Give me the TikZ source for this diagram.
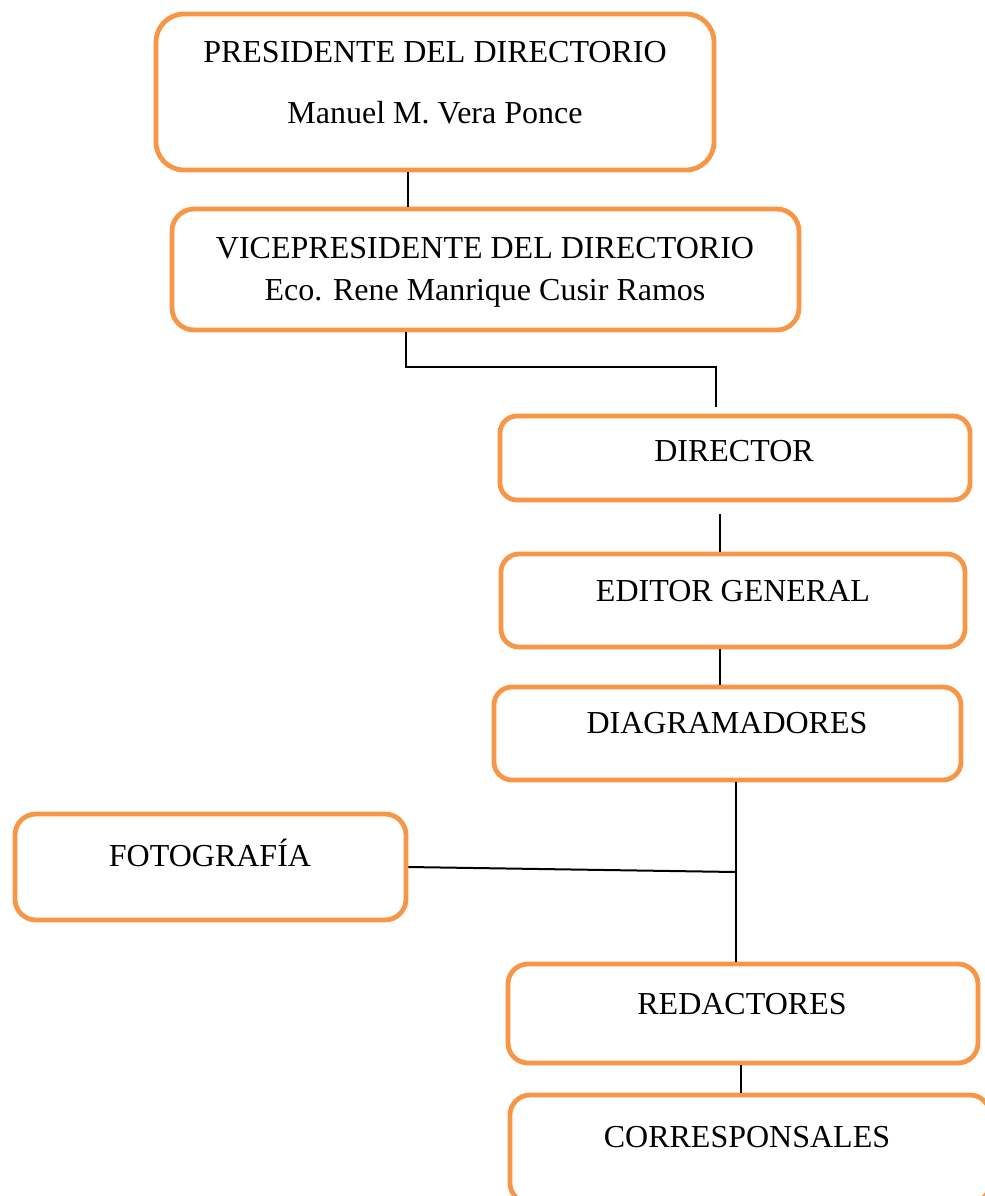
\documentclass[tikz,border=0pt]{standalone}
\usepackage{fontspec}
\setmainfont{Liberation Serif}
\definecolor{naranja}{HTML}{F79646}
\begin{document}
\begin{tikzpicture}[x=0.5pt,y=-0.5pt,
  caja/.style={draw=naranja,line width=2.4pt,inner sep=0pt},
  texto/.style={anchor=base,inner sep=0pt,font=\fontsize{16}{19}\selectfont},
  linea/.style={draw=black,line width=1pt}]

\useasboundingbox (0,0) rectangle (985,1196);

\node[caja,rounded corners=14pt,minimum width=279pt,minimum height=78pt] (pres) at (435,92) {};
\node[caja,rounded corners=11pt,minimum width=313.5pt,minimum height=60.5pt] (vice) at (485.5,269.5) {};
\node[caja,rounded corners=8.5pt,minimum width=235pt,minimum height=42pt] (dir) at (735,458) {};
\node[caja,rounded corners=9pt,minimum width=232pt,minimum height=46.5pt] (edit) at (733,600.5) {};
\node[caja,rounded corners=9pt,minimum width=233.5pt,minimum height=46.5pt] (diag) at (727.5,733.5) {};
\node[caja,rounded corners=10.5pt,minimum width=195.5pt,minimum height=53pt] (foto) at (210.5,867) {};
\node[caja,rounded corners=10pt,minimum width=235pt,minimum height=49.5pt] (redac) at (743,1013.5) {};
\node[caja,rounded corners=10pt,minimum width=240pt,minimum height=54pt] (corr) at (750,1149) {};

%textos
\node[texto] (presA) at (435,62) {PRESIDENTE DEL DIRECTORIO};
\node[texto] (presB) at (435,123) {Manuel M. Vera Ponce};
\node[texto] (viceA) at (485,258) {VICEPRESIDENTE DEL DIRECTORIO};
\node[texto] (viceB) at (485,300) {Eco. Rene Manrique Cusir Ramos};
\node[texto] (dirT) at (734,461) {DIRECTOR};
\node[texto] (editT) at (733,601) {EDITOR GENERAL};
\node[texto] (diagT) at (727,733) {DIAGRAMADORES};
\node[texto] (fotoT) at (210,866) {FOTOGRAFÍA};
\node[texto] (redacT) at (742,1014) {REDACTORES};
\node[texto] (corrT) at (747,1147) {CORRESPONSALES};

%uniones
\coordinate (j1) at (408,190);
\coordinate (j2) at (406,367);
\coordinate (j3) at (716,367);
\coordinate (j4) at (720,530);
\coordinate (j5) at (720,667);
\coordinate (j6) at (736,872);
\coordinate (j7) at (741,1080);

\draw [linea] (pres.south -| j1) -- (vice.north -| j1);
\draw [linea,shorten >=3.5pt] (vice.south -| j2) -- (j2) -- (j3) -- (dir.north -| j3);
\draw [linea,shorten <=6pt] (dir.south -| j4) -- (edit.north -| j4);
\draw [linea] (edit.south -| j5) -- (diag.north -| j5);
\draw [linea] (diag.south -| j6) -- (redac.north -| j6);
\draw [linea] (foto.east) -- (j6);
\draw [linea] (redac.south -| j7) -- (corr.north -| j7);
\end{tikzpicture}
\end{document}
